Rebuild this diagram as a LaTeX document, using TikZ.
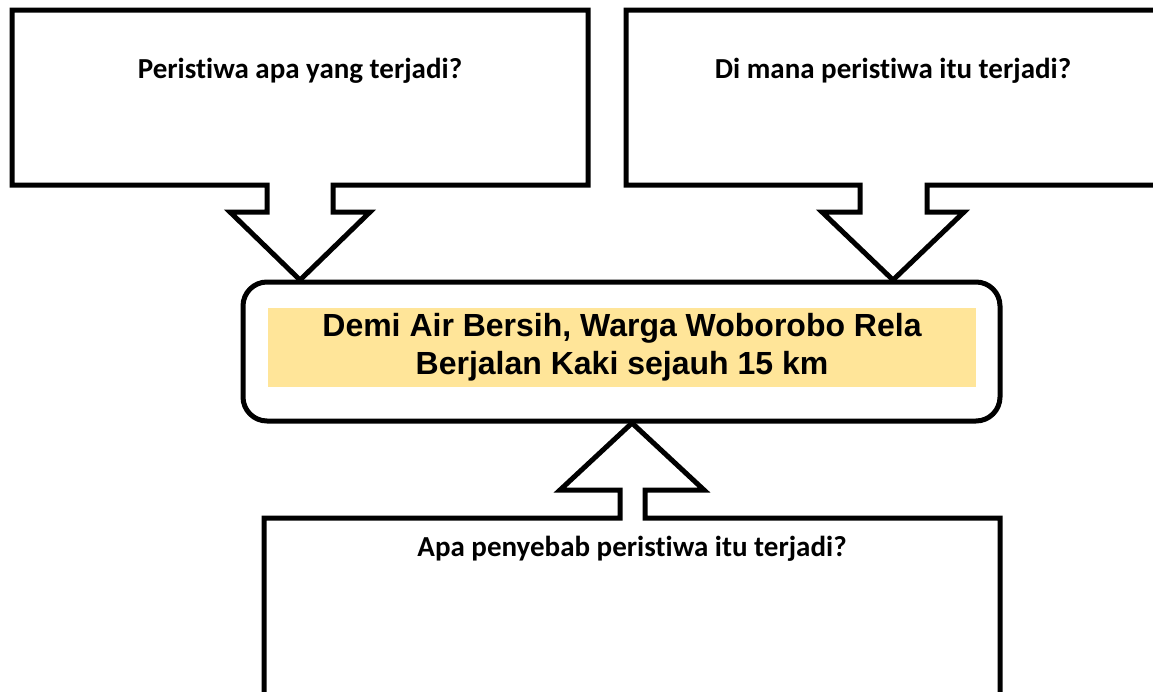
\documentclass[tikz,border=0pt]{standalone}
\usepackage{fontspec}
\newfontfamily\calib[RawFeature=-liga]{Carlito}
\newfontfamily\arialb{Liberation Sans}
\definecolor{hl}{HTML}{FFE599}
\begin{document}
\begin{tikzpicture}[x=1pt,y=-1pt,
  callout/.style={draw=black,line width=5pt,line join=miter,fill=white},
  qlabel/.style={font=\calib\bfseries\fontsize{29}{34}\selectfont,anchor=base,inner sep=0pt},
  title/.style={font=\arialb\bfseries\fontsize{32}{38}\selectfont,align=center,inner sep=0pt}]
\useasboundingbox (0,0) rectangle (1153,691);
\clip (0,0) rectangle (1153,691);
% top-left callout
\draw[callout] (12,10) -- (588,10) -- (588,185) -- (333,185) -- (333,212) -- (370,212)
  -- (300,280) -- (230,212) -- (267,212) -- (267,185) -- (12,185) -- cycle;
% top-right callout
\draw[callout] (626,10) -- (1170,10) -- (1170,185) -- (927,185) -- (927,212) -- (964,212)
  -- (893,280) -- (822,212) -- (860,212) -- (860,185) -- (626,185) -- cycle;
% bottom callout
\draw[callout] (264,710) -- (264,518) -- (620,518) -- (620,490) -- (560,490) -- (632,423)
  -- (704,490) -- (645,490) -- (645,518) -- (1000,518) -- (1000,710);
% center box
\draw[line width=5pt,fill=white,rounded corners=24pt] (243,282) rectangle (1000,421);
\fill[hl] (268,308) rectangle (976,387);
\node[title] (main) at (622,347.5) {Demi Air Bersih, Warga Woborobo Rela\\Berjalan Kaki sejauh 15 km};
\node[qlabel] (q1) at (300,78) {Peristiwa apa yang terjadi?};
\node[qlabel] (q2) at (893,78) {Di mana peristiwa itu terjadi?};
\node[qlabel] (q3) at (632,556) {Apa penyebab peristiwa itu terjadi?};
\end{tikzpicture}
\end{document}
